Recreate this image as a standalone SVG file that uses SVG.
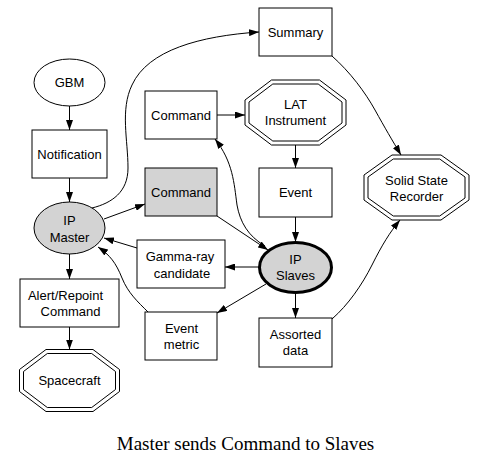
<svg xmlns="http://www.w3.org/2000/svg" width="487" height="467" viewBox="0 0 487 467">
<defs>
<marker id="arr" markerUnits="userSpaceOnUse" markerWidth="10" markerHeight="7" refX="10" refY="3.5" orient="auto">
<path d="M0,0 L10,3.5 L0,7 z" fill="#000"/>
</marker>
<style>
.n{fill:#fff;stroke:#000;stroke-width:1}
.g{fill:#d3d3d3;stroke:#000;stroke-width:1}
.t{font-family:"Liberation Sans",Arial,sans-serif;font-size:13px;fill:#000;text-anchor:middle}
.e{fill:none;stroke:#000;stroke-width:1;marker-end:url(#arr)}
.cap{font-family:"Liberation Serif","Times New Roman",serif;font-size:19px;fill:#000;text-anchor:middle}
</style>
</defs>
<rect width="487" height="467" fill="#fff"/>
<g id="edges">
<path class="e" d="M69.5,106 L69.5,130"/>
<path class="e" d="M69.5,178 L69.5,202"/>
<path class="e" d="M69.5,254 L69.5,279"/>
<path class="e" d="M69.5,327 L69.5,349.5"/>
<path class="e" d="M92,208 C112,203 128,192 128,168 C128,140 120,110 132,85 C148,50 200,36 259,32"/>
<path class="e" d="M217,115 L245,115"/>
<path class="e" d="M295.5,145 L295.5,168"/>
<path class="e" d="M295.5,217 L295.5,242"/>
<path class="e" d="M104,219 L145,204"/>
<path class="e" d="M217,216 L268,250"/>
<path class="e" d="M265,246 C248,236 240,222 237,205 C234,183 233,162 215,139"/>
<path class="e" d="M259,267 L225,267"/>
<path class="e" d="M137,248 L104,238"/>
<path class="e" d="M148,312 C138,302 128,293 122,278 C116,263 110,255 98,247"/>
<path class="e" d="M266,284 L217,313"/>
<path class="e" d="M295.5,293 L295.5,318"/>
<path class="e" d="M332,319 C348,305 362,285 372,265 C382,245 390,232 400,220"/>
<path class="e" d="M332,56 C350,72 365,92 375,110 C385,128 392,140 401,155"/>
</g>
<g id="GBM">
<ellipse class="n" cx="69.5" cy="82.5" rx="35.5" ry="23.5"/>
<text class="t" x="69.5" y="87">GBM</text>
</g>
<g id="Notification">
<rect class="n" x="32" y="130" width="75" height="48"/>
<text class="t" x="69.5" y="158.5">Notification</text>
</g>
<g id="IPMaster">
<ellipse class="g" cx="69.5" cy="228" rx="35.5" ry="26"/>
<text class="t" x="69.5" y="225">IP</text>
<text class="t" x="69.5" y="241.5">Master</text>
</g>
<g id="AlertRepoint">
<rect class="n" x="20" y="279" width="99" height="48"/>
<text class="t" x="65.5" y="300">Alert/Repoint</text>
<text class="t" x="70.5" y="316">Command</text>
</g>
<g id="Spacecraft">
<polygon class="n" points="46,349.5 93,349.5 119.5,369.5 119.5,391.5 93,411.5 46,411.5 19.5,391.5 19.5,369.5"/>
<polygon class="n" points="47.3,353.5 91.7,353.5 115.5,371.5 115.5,389.5 91.7,407.5 47.3,407.5 23.5,389.5 23.5,371.5"/>
<text class="t" x="69.5" y="385">Spacecraft</text>
</g>
<g id="CommandTop">
<rect class="n" x="145" y="91" width="72" height="48"/>
<text class="t" x="181" y="119.5">Command</text>
</g>
<g id="CommandGray">
<rect class="g" x="145" y="168" width="72" height="48"/>
<text class="t" x="181" y="196.5">Command</text>
</g>
<g id="GammaRay">
<rect class="n" x="137" y="240" width="88" height="48"/>
<text class="t" x="180" y="260.5">Gamma-ray</text>
<text class="t" x="182" y="277.5">candidate</text>
</g>
<g id="EventMetric">
<rect class="n" x="145" y="312" width="72" height="48"/>
<text class="t" x="181.5" y="333">Event</text>
<text class="t" x="181.5" y="349">metric</text>
</g>
<g id="Summary">
<rect class="n" x="259" y="8" width="73" height="48"/>
<text class="t" x="295.5" y="36.5">Summary</text>
</g>
<g id="LAT">
<polygon class="n" points="271.5,80 319.5,80 346,100 346,125 319.5,145 271.5,145 245,125 245,100"/>
<polygon class="n" points="272.8,84 318.2,84 342,102 342,123 318.2,141 272.8,141 249,123 249,102"/>
<text class="t" x="295.5" y="108.5">LAT</text>
<text class="t" x="295.5" y="125">Instrument</text>
</g>
<g id="Event">
<rect class="n" x="259" y="168" width="73" height="49"/>
<text class="t" x="295.5" y="197">Event</text>
</g>
<g id="IPSlaves">
<ellipse class="g" cx="295.5" cy="267.5" rx="36" ry="25" style="stroke-width:3"/>
<text class="t" x="295.5" y="263.5">IP</text>
<text class="t" x="295.5" y="280">Slaves</text>
</g>
<g id="Assorted">
<rect class="n" x="259" y="318" width="73" height="49"/>
<text class="t" x="295.5" y="339">Assorted</text>
<text class="t" x="295.5" y="355">data</text>
</g>
<g id="SSR">
<polygon class="n" points="392,155 441,155 469,175 469,200 441,220 392,220 364,200 364,175"/>
<polygon class="n" points="393.3,159 439.7,159 465,177 465,198 439.7,216 393.3,216 368,198 368,177"/>
<text class="t" x="416.5" y="185">Solid State</text>
<text class="t" x="416.5" y="200.5">Recorder</text>
</g>
<text class="cap" x="245.5" y="450">Master sends Command to Slaves</text>
</svg>
